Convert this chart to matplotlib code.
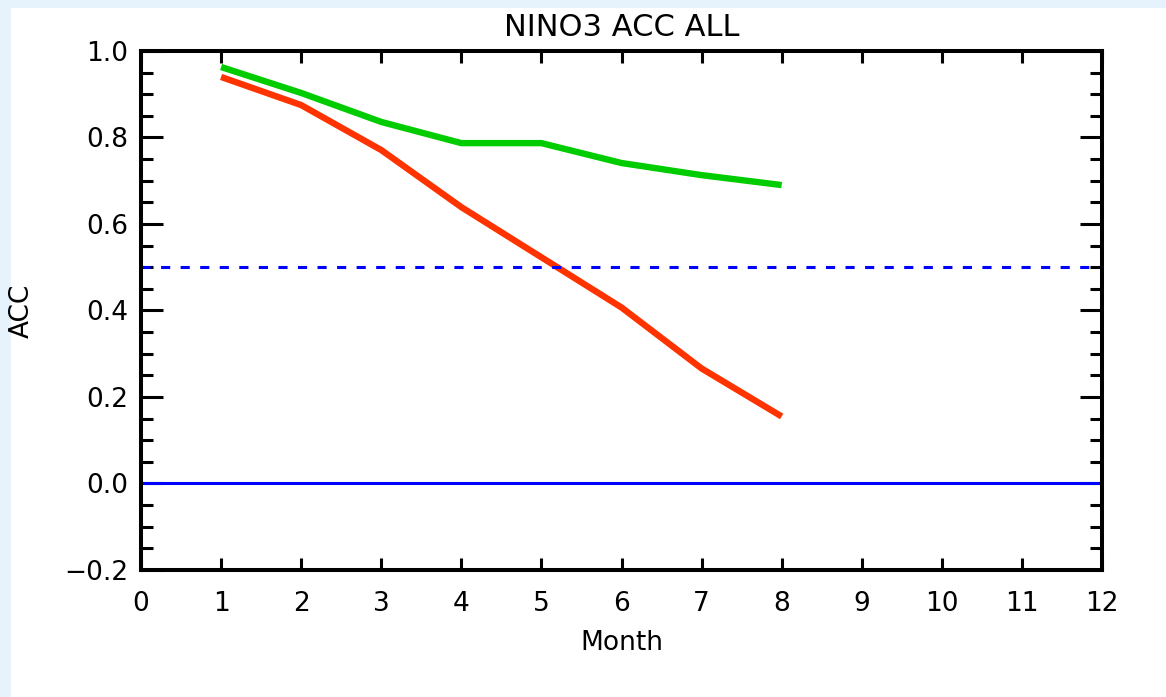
import matplotlib.pyplot as plt
from matplotlib.patches import Rectangle
from matplotlib.ticker import MultipleLocator

# ACC of NINO3 forecast vs lead month
months = [1, 2, 3, 4, 5, 6, 7, 8]
acc_green = [0.963, 0.903, 0.836, 0.787, 0.787, 0.741, 0.713, 0.690]
acc_red = [0.940, 0.875, 0.771, 0.639, 0.523, 0.407, 0.266, 0.155]
ref_dashed = 0.5
ref_zero = 0.0

plt.rcParams['font.family'] = ['DejaVu Sans']

W, H = 1166, 697
fig = plt.figure(figsize=(W / 100, H / 100), dpi=100, facecolor='#e6f3fd')
# white page area inside the light blue border
fig.patches.append(Rectangle((11 / W, 0), 1 - 11 / W, 1 - 8 / H,
                             transform=fig.transFigure, facecolor='white',
                             edgecolor='none', zorder=-10))

ax = fig.add_axes([141 / W, 1 - 570 / H, (1102 - 141) / W, (570 - 51) / H])
ax.set_facecolor('white')

ax.plot(months, acc_green, color='#00cc00', lw=4.6, solid_capstyle='butt')
ax.plot(months, acc_red, color='#ff3300', lw=4.6, solid_capstyle='butt')
ax.axhline(ref_dashed, color='#0000ff', lw=2.2, dashes=(3.0, 3.4))
ax.axhline(ref_zero, color='#0000ff', lw=2.2)

ax.set_xlim(0, 12)
ax.set_ylim(-0.2, 1.0)
ax.xaxis.set_major_locator(MultipleLocator(1))
ax.yaxis.set_major_locator(MultipleLocator(0.2))
ax.yaxis.set_minor_locator(MultipleLocator(0.05))
ax.yaxis.set_major_formatter(plt.FuncFormatter(lambda v, p: f'{v:.1f}'.replace('-', '\u2212')))

for s in ax.spines.values():
    s.set_linewidth(2.9)
ax.tick_params(axis='both', which='both', direction='in', width=2.2, colors='black')
ax.tick_params(axis='x', which='major', length=8.6, top=True, bottom=True, pad=15, labelsize=19)
ax.tick_params(axis='y', which='major', length=15.5, left=True, right=True, pad=9, labelsize=19)
ax.tick_params(axis='y', which='minor', length=8.6, left=True, right=True)

ax.set_title('NINO3 ACC ALL', fontsize=22, pad=11)
ax.set_xlabel('Month', fontsize=19)
ax.xaxis.set_label_coords(0.5, -(630 - 570) / 519)
ax.set_ylabel('ACC', fontsize=19)
ax.yaxis.label.set_va('center')
ax.yaxis.set_label_coords((22 - 141) / 961, 0.5)

fig.savefig('out.png', dpi=100, facecolor=fig.get_facecolor())
